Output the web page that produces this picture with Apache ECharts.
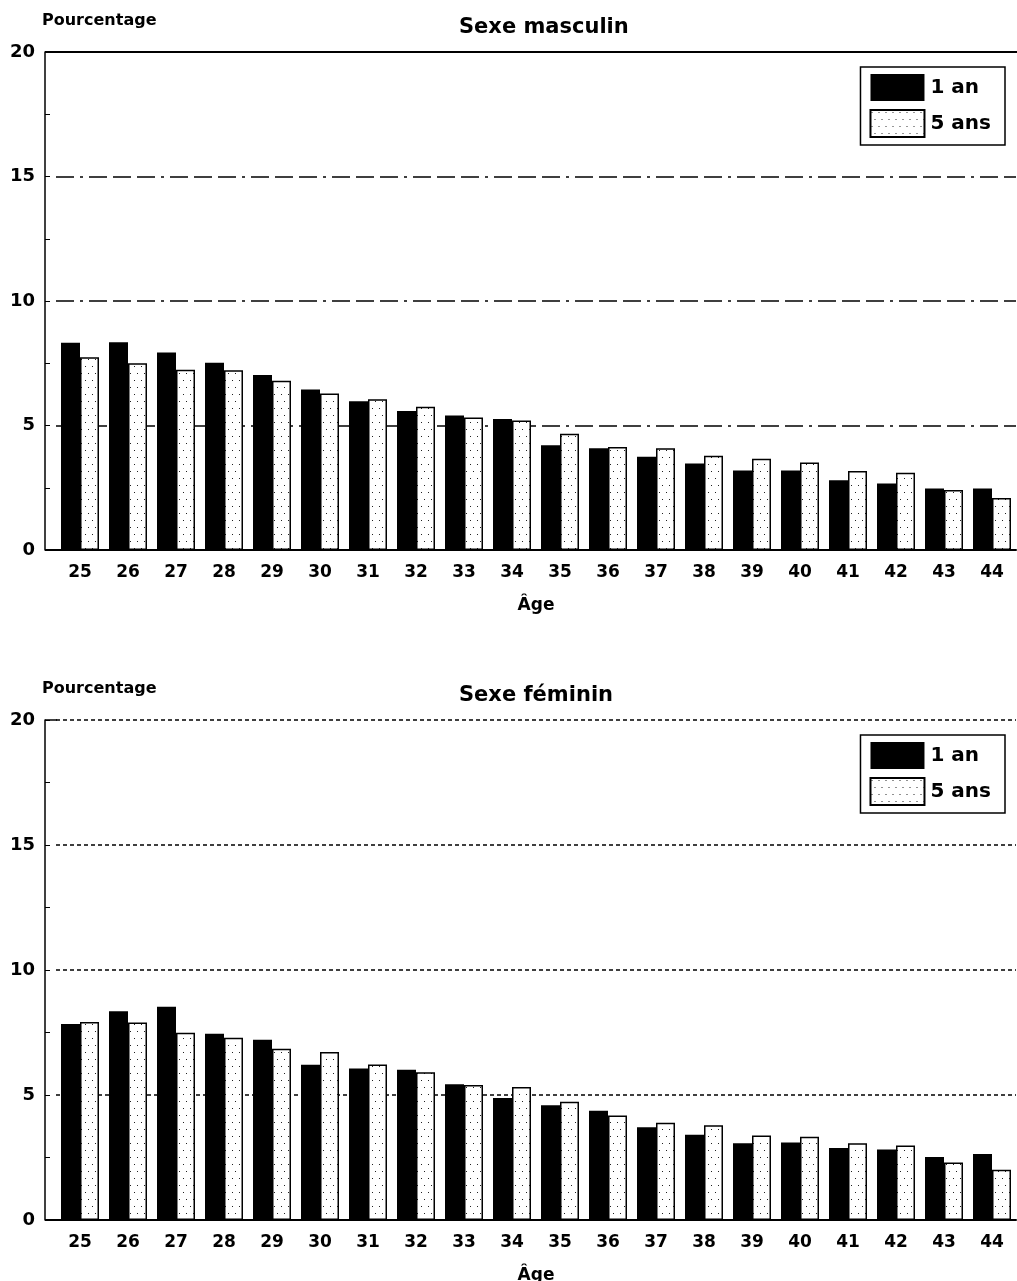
<!DOCTYPE html>
<html><head><meta charset="utf-8">
<script src="https://cdn.jsdelivr.net/npm/echarts@6/dist/echarts.min.js"></script>
<style>html,body{margin:0;padding:0;background:#fff}#c{width:1017px;height:1281px}</style>
</head><body><div id="c"></div>
<script>
const ages = ['25','26','27','28','29','30','31','32','33','34','35','36','37','38','39','40','41','42','43','44'];
const yTicks = [0, 5, 10, 15, 20];
const seriesNames = ['1 an', '5 ans'];
const titles = ['Sexe masculin', 'Sexe féminin'];
const maleOneYear  = [8.32,8.34,7.93,7.52,7.03,6.45,5.97,5.58,5.40,5.26,4.21,4.09,3.75,3.47,3.19,3.19,2.80,2.67,2.47,2.47];
const maleFiveYear = [7.74,7.50,7.24,7.22,6.80,6.29,6.05,5.75,5.32,5.20,4.67,4.14,4.09,3.79,3.66,3.51,3.17,3.10,2.41,2.09];
const femOneYear   = [7.84,8.35,8.53,7.45,7.21,6.21,6.06,6.01,5.43,4.88,4.59,4.37,3.71,3.41,3.07,3.10,2.88,2.82,2.52,2.64];
const femFiveYear  = [7.92,7.90,7.49,7.29,6.85,6.72,6.22,5.91,5.40,5.32,4.73,4.18,3.89,3.79,3.38,3.33,3.07,2.98,2.30,2.01];

const FONT = '"DejaVu Sans", sans-serif';
const pc = document.createElement('canvas');
pc.width = 7; pc.height = 14;
const g = pc.getContext('2d');
g.fillStyle = '#fff'; g.fillRect(0,0,7,14);
g.fillStyle = '#222';
g.fillRect(1,2,1,1); g.fillRect(4,9,1,1);
const dotted = {image: pc, repeat: 'repeat'};

const grids = [
  {left:56, right:1, top:52, height:498, outerBoundsMode:'none', containLabel:false},
  {left:56, right:1, top:720, height:500, outerBoundsMode:'none', containLabel:false}
];
const dashTypes = [[18,6,3,6,18,6,18,6], [4,3]];
const datasets = [[maleOneYear, maleFiveYear], [femOneYear, femFiveYear]];

const option = {
  animation:false,
  backgroundColor:'#fff',
  textStyle:{fontFamily:FONT},
  title: [], legend: [], grid: grids,
  xAxis: [], yAxis: [], series: [], graphic: []
};
[0,1].forEach(i=>{
  const gr = grids[i];
  option.title.push({text:'Pourcentage', left:42, top: gr.top-39, padding:0,
    textStyle:{fontFamily:FONT, fontSize:16, fontWeight:'bold', color:'#000'}});
  option.title.push({text:titles[i], left:459, top: gr.top-35, padding:0,
    textStyle:{fontFamily:FONT, fontSize:21, fontWeight:'bold', color:'#000'}});
  option.legend.push({
    data: seriesNames, orient:'vertical', right: 12, top: gr.top + 15,
    padding:[7,14,7,9], itemGap:8, itemWidth:54, itemHeight:27, icon:'rect',
    borderColor:'#000', borderWidth:1.5, backgroundColor:'#fff',
    textStyle:{fontFamily:FONT, fontSize:20, fontWeight:'bold', color:'#000', padding:[0,0,0,1]},
    selectedMode:false
  });
  option.xAxis.push({
    type:'category', gridIndex:i, data:ages,
    axisLine:{lineStyle:{color:'#000', width:2}},
    axisTick:{show:false},
    axisLabel:{color:'#000', fontSize:17, fontWeight:'bold', fontFamily:FONT, margin:14},
    name:'Âge', nameLocation:'middle', nameGap:47,
    nameTextStyle:{color:'#000', fontSize:17, fontWeight:'bold', fontFamily:FONT}
  });
  option.yAxis.push({
    type:'value', gridIndex:i, min:yTicks[0], max:yTicks[yTicks.length-1], interval:5,
    offset:11,
    axisLine:{show:true, lineStyle:{color:'#000', width:1.5}},
    axisTick:{show:true, inside:true, length:5, lineStyle:{color:'#000'}},
    minorTick:{show:true, splitNumber:2, length:5, lineStyle:{color:'#000'}},
    axisLabel:{color:'#000', fontSize:18, fontWeight:'bold', fontFamily:FONT, margin:10,
      formatter: v => yTicks.includes(v) ? String(v) : ''},
    splitLine:{show:true, lineStyle:{color:'#000', width:1.5, type:dashTypes[i]}}
  });
  option.series.push({
    name:seriesNames[0], type:'bar', xAxisIndex:i, yAxisIndex:i,
    data:datasets[i][0], barWidth:19, barGap:'0%',
    itemStyle:{color:'#000'}
  });
  option.series.push({
    name:seriesNames[1], type:'bar', xAxisIndex:i, yAxisIndex:i,
    data:datasets[i][1], barWidth:19, barGap:'0%',
    itemStyle:{color:dotted, borderColor:'#000', borderWidth:1.5}
  });
  const yb = gr.top + gr.height;
  option.graphic.push({type:'line', shape:{x1:45, y1:yb, x2:57, y2:yb}, style:{stroke:'#000', lineWidth:2}});
  option.graphic.push({type:'line', shape:{x1:45, y1:gr.top, x2:57, y2:gr.top}, style:{stroke:'#000', lineWidth:1.5}});
});
// solid frame line at the top of the first panel
option.graphic.push({type:'line', shape:{x1:45, y1:grids[0].top, x2:1017, y2:grids[0].top}, style:{stroke:'#000', lineWidth:2}});
option.legend[0].seriesIndex = [0,1];
option.legend[1].seriesIndex = [2,3];
const chart = echarts.init(document.getElementById('c'), null, {renderer:'canvas'});
chart.setOption(option);
</script></body></html>
